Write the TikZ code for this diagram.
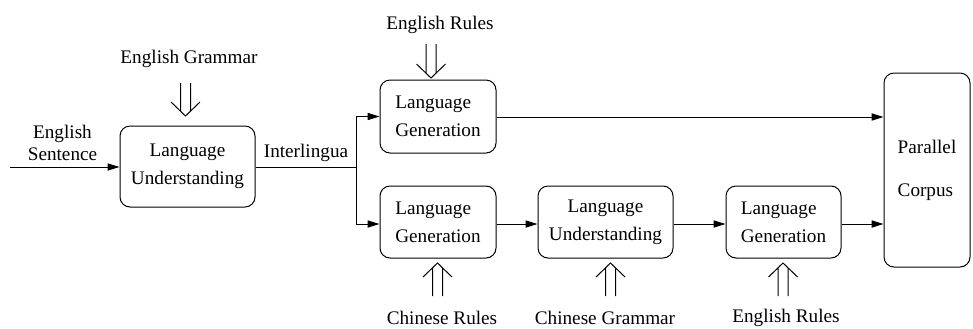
\documentclass[tikz,border=0pt]{standalone}
\usepackage{fontspec}
\setmainfont{Liberation Serif}
\usetikzlibrary{arrows.meta,calc}
\newcommand\twinarrow[3]{%
  \pgfmathsetmacro\twHb{#3-14*sign(#3-#2)}%
  \pgfmathsetmacro\twLe{#3-5*sign(#3-#2)}%
  \draw[line join=miter] (#1-5,#2) -- (#1-5,\twLe) (#1+5,#2) -- (#1+5,\twLe)
    (#1-14.5,\twHb) -- (#1,#3) -- (#1+14.5,\twHb);%
}
\begin{document}
\begin{tikzpicture}[x=0.5pt,y=-0.5pt,line width=0.5pt,
  font=\fontsize{9.6}{14}\selectfont,
  box/.style={draw,rounded corners=5pt,inner sep=0pt},
  lbl/.style={inner sep=0pt,align=center},
  arr/.style={-{Triangle[length=6pt,width=3.6pt]}}]
\useasboundingbox (0,0) rectangle (973,328);
\node[box,minimum width=67.5pt,minimum height=40.5pt,align=center] (lu1) at (187.5,166.5) {Language\\Understanding};
\node[box,minimum width=58pt,minimum height=36.5pt,align=left] (lgtop) at (438,116.5) {Language\\Generation};
\node[box,minimum width=58pt,minimum height=36pt,align=left] (lgbot) at (438,222) {Language\\Generation};
\node[box,minimum width=67.5pt,minimum height=36pt,align=center] (lu2) at (605.5,222) {Language\\Understanding};
\node[box,minimum width=57.5pt,minimum height=36pt,align=left] (lg3) at (783.5,222) {Language\\Generation};
\node[box,minimum width=43pt,minimum height=97pt,align=left,font=\fontsize{9.6}{21.5}\selectfont] (pc) at (927,170) {Parallel\\Corpus};
% labels
\node[lbl,font=\fontsize{9.6}{11}\selectfont] (es) at (62.5,143) {English\\Sentence};
\node[lbl] (il) at (306,153) {Interlingua};
\node[lbl] (eg) at (189,59) {English Grammar};
\node[lbl] (er1) at (440,25) {English Rules};
\node[lbl] (cr) at (442,318) {Chinese Rules};
\node[lbl] (cg) at (605,318) {Chinese Grammar};
\node[lbl] (er2) at (786,318) {English Rules};
% connectors
\coordinate (start) at (10,167);
\coordinate (junc) at (356,167);
\draw[arr] (start) -- (start -| lu1.west);
\draw (lu1.east |- junc) -- (junc);
\draw[arr] (junc) |- (lgtop.west);
\draw[arr] (junc) |- (lgbot.west |- 0,224);
\draw[arr] (lgtop.east |- 0,117) -- (pc.west |- 0,117);
\draw[arr] (lgbot.east |- 0,224) -- (lu2.west |- 0,224);
\draw[arr] (lu2.east |- 0,224) -- (lg3.west |- 0,224);
\draw[arr] (lg3.east |- 0,224) -- (pc.west |- 0,224);
% double arrows
\twinarrow{185.5}{83}{116}
\twinarrow{431}{44}{78}
\twinarrow{437.5}{296}{263}
\twinarrow{610.5}{296}{263}
\twinarrow{783}{296}{263}
\end{tikzpicture}
\end{document}
